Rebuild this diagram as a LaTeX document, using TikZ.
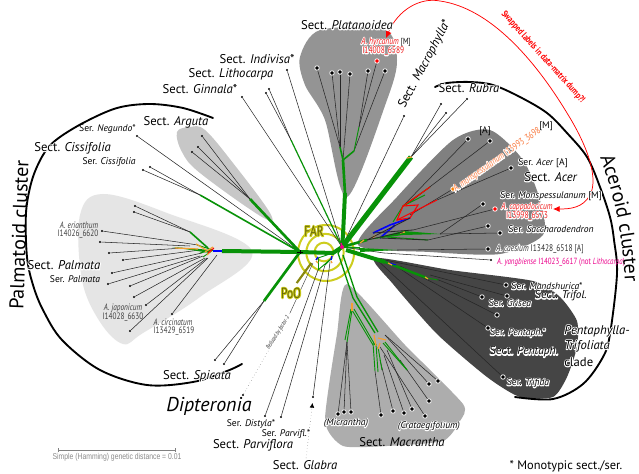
\documentclass[tikz,border=0pt]{standalone}
\usepackage{fontspec}
\usepackage{xcolor}
\setmainfont{PT Sans}
\newfontfamily\nar[FakeStretch=0.78]{PT Sans}
\newfontfamily\sw[FakeStretch=0.8]{Liberation Sans}
\usetikzlibrary{arrows.meta,decorations.text}
\definecolor{gr}{RGB}{8,146,8}
\definecolor{org}{RGB}{245,160,50}
\definecolor{ring}{RGB}{205,205,30}
\definecolor{oliv}{RGB}{105,105,10}
\definecolor{redl}{RGB}{240,30,30}
\definecolor{orl}{RGB}{250,120,60}
\newsavebox\hba
\newsavebox\hbb
\newcommand\halo[3]{\sbox\hba{\color{#1}\special{pdf:code q 1 Tr 1.3 w 1 j 1 J}#3\special{pdf:code Q}}\sbox\hbb{\color{#2}#3}\leavevmode\rlap{\copy\hba}\copy\hbb}
\newcommand\wh[1]{\halo{white}{black}{#1}}
\tikzset{
 sec/.style={inner sep=0pt,font=\fontsize{9.5}{11}\selectfont},
 serl/.style={inner sep=0pt,font=\fontsize{7.2}{9}\selectfont},
 narl/.style={inner sep=0pt,font=\nar\fontsize{7}{8}\selectfont,text=black!75},
 big/.style={inner sep=0pt,font=\fontsize{15}{18}\selectfont},
 tipk/.style={circle,fill=black,inner sep=0pt,minimum size=1.7pt},
 tipw/.style={circle,fill=black,draw=white,line width=.6pt,inner sep=0pt,minimum size=3.4pt},
 tipr/.style={circle,fill=red,draw=white,line width=.6pt,inner sep=0pt,minimum size=3.4pt},
 tipo/.style={circle,fill=orange,draw=white,line width=.6pt,inner sep=0pt,minimum size=3.4pt},
 leaf/.style={draw=black!85,line width=.4pt},
 g1/.style={draw=gr,line width=.7pt},
 g2/.style={draw=gr,line width=1.2pt},
 g3/.style={draw=gr,line width=2pt},
 g4/.style={draw=gr,line width=3pt},
 g5/.style={draw=gr,line width=3.8pt},
 bl/.style={draw=blue,line width=1.2pt},
 rd/.style={draw=red,line width=.8pt},
 og/.style={draw=org,line width=.9pt},
 arcb/.style={draw=black,line width=1.4pt,line cap=round},
}
\begin{document}
\begin{tikzpicture}[x=0.75pt,y=-0.75pt]
\useasboundingbox (0,0) rectangle (639,474);
\fill[white] (0,0) rectangle (639,474);
% shaded blobs
\fill[black!10] plot[smooth cycle,tension=.6] coordinates {(80,215)(103,194)(167,213)(252,251)(200,297)(143,333)(123,344)(100,322)(82,280)};
\fill[black!22] plot[smooth cycle,tension=.6] coordinates {(177,132)(190,127)(205,130)(233,163)(270,213)(262,217)(200,173)(182,152)};
\fill[black!42] plot[smooth cycle,tension=.5] coordinates {(300,57)(320,30)(385,30)(397,60)(387,100)(347,197)(325,120)(305,85)};
\fill[black!50] plot[smooth cycle,tension=.45] coordinates {(358,245)(397,197)(453,140)(490,130)(523,160)(540,200)(543,235)(500,254)(430,252)};
\fill[black!73] plot[smooth cycle,tension=.4] coordinates {(375,258)(450,270)(533,281)(560,297)(577,321)(577,347)(567,377)(553,397)(520,397)(487,377)(437,334)(393,284)};
\fill[black!32] plot[smooth cycle,tension=.35] coordinates {(347,284)(405,345)(463,404)(460,421)(443,441)(387,446)(343,446)(325,421)(337,334)};
% big arcs
\draw[arcb] plot[smooth,tension=.55] coordinates {(213,118)(183,108)(150,104)(117,108)(83,123)(56,140)(43,155)(32,180)(26,213)(27,257)(33,285)(43,310)(62,340)(100,370)(147,385)(193,382)(227,371)(242,364)};
\draw[arcb] plot[smooth,tension=.55] coordinates {(435,87)(447,83)(470,82)(493,85)(520,97)(547,113)(567,133)(587,157)(600,187)(610,217)(614,240)(617,274)(610,334)(603,357)(583,384)(553,399)(515,397)};
% rings
\node[circle,draw=ring,line width=1.5pt,inner sep=0pt,minimum size=42pt] (r3) at (326,253) {};
\node[circle,draw=ring,line width=1.5pt,inner sep=0pt,minimum size=28pt] (r2) at (325,252.5) {};
\node[circle,draw=ring,line width=1.5pt,inner sep=0pt,minimum size=14pt] (r1) at (324,252) {};
\node[inner sep=0pt,minimum size=1pt] (pooa) at (296,284) {};
\node[inner sep=0pt,minimum size=1pt] (poob) at (312,262) {};
\draw[oliv!70!ring,line width=1.6pt] (pooa) -- (poob);
% hubs
\foreach \n/\x/\y in {
 hub/342/247, jl/333/253, jf/300/252, pal/222/251, ars/250/199, cis/200/195, spi/264/301,
 pa1/190/232, pa2/208/248, pa3/213/250, e1/198/245, e2/190/246, e3/183/248, e4/200/250, e5/202/253, e6/200/256, e7/203/256, e8/205/258, e9/207/258, e10/208/258, e11/217/255,
 pl0/345/193, pl1/343/160, pl2/340/147, pl3/354/151, pl4/359/127,
 rub/411/157,
 ac0/373/233, ac1/390/225, ac2/410/218, ac3/397/220, ac4/403/206, ac5/430/187, ac6/437/200, ac7/418/205, ac8/380/238, ac9/395/225, ac10/367/240, ac11/403/232, ac12/440/234, ac13/387/237, ac14/428/240, ac15/410/202, ac16/413/230, ac17/410/215,
 ca0/360/248, ca1/397/250, ya0/384/253,
 tr0/346/250, tr1/385/262, tr2/427/278, tr3/438/280, tr4/380/259, tr5/430/275, tr6/436/279, tr7/400/266, tr8/390/262, tr9/375/258,
 ma0/338/253, ma1/353/298, ma2/375/333, ma3/352/310, ma4/347/342, ma5/373/345, ma6/373/343, ma7/375/371, ma8/378/347, ma9/382/370, ma10/383/343, ma11/407/370, ma12/385/342, ma13/343/255, ma14/357/297, ma15/378/332, ma16/380/360, ma17/384/355, ma18/387/350, ma19/380/347, ma20/400/360, ma21/385/335,
 pv0/318/258, pv1/332/258, pv2/318/270, pv3/325/265, pv4/330/262, di0/313/263, di1/290/313}
 {\coordinate (\n) at (\x,\y);}
% tips
\foreach \n/\x/\y in {
 t1/202/136, t2/198/147, t3/192/152, t4/137/136, t5/150/167, t6/143/170, t7/135/206, t8/134/212,
 t9/102/231, t10/100/242, t11/109/253, t12/123/260, t13/112/273, t14/108/284, t15/130/286, t16/134/297, t17/146/305, t18/130/331, t19/172/314,
 t20/215/360, t21/224/364, t22/243/395, t23/265/416, t24/281/417, t25/313/397,
 t28/441/104, t29/446/113, t30/467/99, t31/404/116, t32/491/260,
 gin/242/97, li1/269/89, li2/266/93, ind/287/70}
 {\node[tipk] (\n) at (\x,\y) {};}
\foreach \n/\x/\y in {
 p1/317/68, p2/332/73, p3/340/72, p4/350/74, p5/368/71, p7/385/71,
 a1/468/139, a2/490/141, a3/511/168, a5/483/204, a7/488/226, a8/500/233, a9b/488/249,
 d1/506/285, d2/507/296, d3/482/297, d4/497/315, d5b/488/328, d6/503/377,
 m1/338/414, m2/344/412, m3/351/412, m4/381/415, m5/393/411, m6/404/413, m7/412/409, m8/425/416, m9/429/401, m10/429/384, m11/438/381}
 {\node[tipw] (\n) at (\x,\y) {};}
\node[tipr] (p6) at (377,61) {};
\node[tipr] (a6) at (495,209) {};
\node[tipo] (a4) at (453,189) {};
% leaves
\foreach \a/\b in {t1/ars,t2/ars,t3/ars,t5/cis,t6/cis,t4/jf,t7/pa1,t8/pa1,t9/e1,t10/e2,t11/e3,t12/e4,t13/e5,t14/e6,t15/e7,t16/e8,t17/e9,t18/e10,t19/e11,
 t20/spi,t21/spi,t23/pv2,t24/pv3,t25/pv4,
 gin/hub,ind/hub,p1/pl2,p2/pl2,p3/pl2,p4/pl1,p5/pl4,p6/pl4,p7/pl3,
 t28/rub,t29/rub,t30/rub,t31/hub,a1/ac4,a2/ac15,a3/ac6,a4/ac17,a5/ac12,a6/ac16,a7/ac14,a8/ac12,a9b/ca1,t32/ya0,
 d1/tr4,d2/tr5,d3/tr6,d4/tr7,d5b/tr8,d6/tr9,
 m1/ma4,m2/ma4,m3/ma4,m4/ma7,m5/ma16,m6/ma17,m7/ma18,m8/ma19,m9/ma20,m10/ma21,m11/ma21,ya0/hub}
 {\draw[leaf] (\a) -- (\b);}
\coordinate (li0) at (291,140);
\foreach \a in {li1,li2} {\draw[leaf] (\a) -- (li0);}
\draw[g1,line width=.9pt] (li0) -- (hub);
% Dipteronia
\draw[black!70,line width=.3pt,dotted] (t22) -- (di1);
\draw[black!80,line width=.3pt] (di1) -- (di0);
% Glabra
\node[inner sep=0pt] (gl0) at (306,459) {};
\coordinate (gl1) at (312.5,403);
\draw[black!70,line width=.3pt,dotted,-{Latex[length=3.5pt,width=3.5pt,black]}] (gl0) -- (gl1);
% green main branches
\draw[g4] (hub) -- ++(1,-12) -- (pl0);
\draw[g3] (pl0) -- (pl1);
\draw[g2] (pl1) -- (pl2);
\draw[g2] (pl1) -- (pl3);
\draw[g1] (pl3) -- (pl4);
\draw[g5] (hub) -- (rub);
\draw[g4] (hub) -- (jl) -- (jf);
\draw[g4] (jf) -- (pal);
\draw[g3] (jf) -- (ars);
\draw[g2] (jf) -- (cis);
\draw[g3] (jf) -- (spi);
\draw[g2] (pa1) -- (pa2);
\fill[gr] (172,247) -- (212,250) -- (210,253) -- cycle;
\draw[g1] (197,245) -- (pa3);
\draw[g1] (203,257) -- (pa3);
\draw[g1] (200,253) -- (pa3);
\draw[og] (175,248) -- (198,249);
\draw[og] (196,244) -- (206,250);
\draw[og] (205,252) -- (213,247);
\draw[og] (207,255) -- (211,251);
\draw[bl] (pal) -- (213,251);
\draw[rd] (208,253) -- (214,248);
% Acer clade
\draw[g3] (hub) -- (ac10);
\draw[bl] (ac0) -- (ac1) -- (ac2);
\draw[bl] (ac8) -- (ac9);
\draw[g1] (393,222) -- (ac4) -- (ac5);
\draw[g1] (ac4) -- (425,195);
\draw[rd] (ac3) -- (ac6);
\draw[rd] (ac3) -- (ac4) -- (ac7) -- (ac2) -- cycle;
\draw[rd] (ac4) -- (ac5);
\fill[gr] (ac10) -- (403,231) -- (ac12) -- (403,235) -- cycle;
\draw[g1] (ac13) -- (ac14);
\fill[gr] (ca0) -- (ca1) -- (360,252) -- cycle;
\draw[g2] (hub) -- (ca0);
\draw[og] (372,238) -- (376,235);
\draw[og] (360,243) -- (364,240);
\draw[og] (400,233) -- (405,232);
\draw[og] (412,157) -- (407,158);
\foreach \a/\b in {ac10/ac2,ac10/ac11,ac0/ac16,ac8/ac14}{\draw[leaf,line width=.6pt] (\a) -- (\b);}
% Pentaphylla-Trifoliata
\draw[g4] (tr0) -- (tr1);
\draw[g2,line width=1.8pt] (tr1) -- (tr2);
\draw[g1] (tr2) -- (tr3);
\draw[bl,line width=.7pt] (390,263) -- (396,265);
\draw[og] (388,263) -- (392,265);
\draw[og] (425,277) -- (428,279);
% Macrantha
\draw[g1,line width=1pt] (ma0) -- (ma1) -- (ma2);
\draw[g1,line width=1pt] (ma13) -- (ma14) -- (ma15);
\draw[g1] (ma3) -- (ma4);
\draw[g1] (351,309) -- (345,340);
\draw[g1] (ma3) -- (ma5);
\draw[g1] (354,309) -- (375,345);
\draw[g1] (ma6) -- (ma7);
\draw[g1] (ma8) -- (ma9);
\draw[g1] (ma10) -- (ma11);
\draw[g1] (ma12) -- (ma11);
\draw[g1] (376,344) -- (378,372);
\draw[og] (352,303) -- (352,311);
\draw[og] (374,335) -- (376,346);
\draw[og] (378,338) -- (386,340);
\draw[og] (380,343) -- (378,349);
\draw[g2] (hub) -- (ma0);
% near the rings
\draw[g1] (jl) -- (pv0);
\draw[g1] (pv1) -- (pv2);
\draw[g1] (pv1) -- (pv3);
\draw[g1] (pv0) -- (pv2);
\draw[bl,line width=1pt] (318,257) -- (316,260);
\draw[bl,line width=1pt] (332,256) -- (331,260);
\draw[og] (316,261) -- (318,263);
\draw[og] (331,261) -- (332,263);
\node[circle,fill=magenta,inner sep=0pt,minimum size=3pt] (hd) at (hub) {};
\draw[black,line width=.5pt] (297,252) -- (303,252) (300,250) -- (300,254);
\draw[magenta,line width=1pt] (341,243) -- (342,247);
% scale bar
\node[inner sep=0pt] (sb1) at (57,450) {};
\node[inner sep=0pt] (sb2) at (176,450) {};
\draw[black!50,line width=.4pt,{|[width=3pt]}-{|[width=3pt]}] (sb1) -- (sb2);
\node[inner sep=0pt,text=black!45] (sbt) at (117,457) {\sw\fontsize{6.4}{7}\selectfont Simple (Hamming) genetic distance = 0.01};
% red arc
\coordinate (ra) at (386,38);
\coordinate (rb) at (553,209);
\draw[red,line width=.55pt,{Latex[length=5pt,width=4.5pt]}-{Latex[length=5pt,width=4.5pt]}] (ra) .. controls (398,10) and (420,-3) .. (440,1) .. controls (490,8) and (535,60) .. (567,113) .. controls (590,150) and (598,180) .. (590,195) .. controls (583,208) and (570,209) .. (rb);
\node[inner sep=0pt,rotate=-48,text=red,font=\nar\bfseries\fontsize{7}{8}\selectfont] (swp) at (543,57) {Swapped labels in data-matrix dump?!};
% labels
\node[sec] (l1) at (347,25) {\wh{Sect. \textit{Platanoidea}}};
\node[sec,rotate=62] (l2) at (425,64) {Sect. \textit{Macrophylla}*};
\node[sec] (l3) at (257,59) {Sect. \textit{Indivisa}*};
\node[sec] (l4) at (231,74) {Sect. \textit{Lithocarpa}};
\node[sec] (l5) at (200,89) {Sect. \textit{Ginnala}*};
\node[sec] (l6) at (176,122) {Sect. \textit{Arguta}};
\node[serl] (l7) at (107.5,129) {Ser. \textit{Negundo}*};
\node[sec] (l8) at (72.5,148) {\wh{Sect. \textit{Cissifolia}}};
\node[serl] (l9) at (109,162) {Ser. \textit{Cissifolia}};
\node[big,rotate=88] (l10) at (19,235) {Palmatoid cluster};
\node[sec] (l11) at (64,265) {\wh{Sect. \textit{Palmata}}};
\node[serl] (l12) at (75,279) {Ser. \textit{Palmata}};
\node[narl] (l13) at (79,225) {\textit{A. erianthum}};
\node[narl] (l14) at (78,234) {I14026\_6620};
\node[narl] (l15) at (123,308) {\textit{A. japonicum}};
\node[narl] (l16) at (123,317) {I14028\_6630};
\node[narl] (l17) at (173,322) {\textit{A. circinatum}};
\node[narl] (l18) at (174,331) {I13429\_6519};
\node[sec] (l19) at (197,376) {\wh{Sect. \textit{Spicata}}};
\node[inner sep=0pt,font=\fontsize{15}{18}\selectfont] (l20) at (209,406) {\textit{Dipteronia}};
\node[serl] (l21) at (251,424) {Ser. \textit{Distyla}*};
\node[serl] (l22) at (286,434) {Ser. \textit{Parvifl.}*};
\node[sec] (l23) at (253,445) {Sect. \textit{Parviflora}};
\node[sec] (l24) at (305,465) {Sect. \textit{Glabra}};
\node[narl,rotate=58,font=\nar\fontsize{4.6}{5}\selectfont,text=black!80] (l25) at (278,333) {\textit{Reduced by factor 2}};
\node[serl] (l26) at (346,423) {\wh{\textit{(Micrantha)}}};
\node[serl] (l27) at (429,426) {\wh{\textit{(Crataegifolium)}}};
\node[sec] (l28) at (402,442) {Sect. \textit{Macrantha}};
\node[inner sep=0pt,font=\fontsize{9.3}{11}\selectfont] (l29) at (566,466) {* Monotypic sect./ser.};
\node[serl] (l30) at (547,286) {\wh{Ser. \textit{Mandshurica}*}};
\node[sec,font=\fontsize{8.3}{10}\selectfont] (l31) at (561,296) {\wh{Sect. \textit{Trifol.}}};
\node[serl] (l32) at (510,303) {\wh{Ser. \textit{Grisea}}};
\node[serl] (l33) at (518,333) {\wh{Ser. \textit{Pentaph.}*}};
\node[sec,font=\fontsize{8.6}{10}\selectfont] (l34) at (524,352) {\wh{Sect. \textit{Pentaph.}}};
\node[sec,anchor=west] (l35) at (564,331) {\wh{\textit{Pentaphylla-}}};
\node[sec,anchor=west] (l36) at (564,346) {\wh{\textit{Trifoliata}}};
\node[sec,anchor=west] (l37) at (564,362) {\wh{clade}};
\node[serl] (l38) at (528,383) {\wh{Ser. \textit{Trifida}}};
\node[sec] (l39) at (469,88) {\wh{Sect. \textit{Rubra}}};
\node[serl] (l40) at (485,131) {[A]};
\node[serl] (l41) at (546,126) {[M]};
\node[narl,rotate=35,font=\nar\fontsize{7.2}{8}\selectfont] (l42) at (497,160) {\halo{white}{orl}{\textit{A. monspessulanum} I13993\_3698}};
\node[serl] (l43) at (543,163) {\wh{Ser. \textit{Acer} [A]}};
\node[sec] (l44) at (551,177) {\wh{Sect. \textit{Acer}}};
\node[serl] (l45) at (551,196) {\wh{Ser. \textit{Monspessulanum} [M]}};
\node[narl,font=\nar\fontsize{7.2}{8}\selectfont] (l46) at (527,207) {\halo{white}{redl}{\textit{A. cappadocicum}}};
\node[narl,font=\nar\fontsize{7.2}{8}\selectfont] (l47) at (527,216) {\halo{white}{redl}{I13998\_6573}};
\node[serl] (l48) at (551,229) {\wh{Ser. \textit{Saccharodendron}}};
\node[narl,font=\nar\fontsize{7.2}{8}\selectfont,anchor=west] (l49) at (496,249) {\halo{white}{black!80}{\textit{A. caesium} I13428\_6518 [A]}};
\node[narl,font=\nar\fontsize{6.7}{8}\selectfont] (l50) at (561,262) {\textcolor{magenta}{\textit{A. yangbiense} I14023\_6617 (not \textit{Lithocarpa})}};
\node[narl,font=\nar\fontsize{7.2}{8}\selectfont,anchor=west] (l51) at (361,42) {\halo{white}{redl}{\textit{A. hyrcanum}} \textcolor{black}{\fontsize{6.6}{8}\selectfont [M]}};
\node[narl,font=\nar\fontsize{7.2}{8}\selectfont,anchor=west] (l52) at (362,51) {\halo{white}{redl}{I14008\_6589}};
\path[decorate,decoration={text along path,text align=center,text={|\fontsize{15}{18}\selectfont|Aceroid cluster}}] (600,157) .. controls (612,190) and (622,225) .. (625,282);
\node[inner sep=0pt,font=\nar\fontsize{11}{12}\selectfont] (far) at (314,231) {\halo{ring}{oliv}{FAR}};
\node[inner sep=0pt,font=\nar\fontsize{11}{12}\selectfont] (poo) at (291,293) {\halo{ring}{oliv}{PoO}};
\end{tikzpicture}
\end{document}
